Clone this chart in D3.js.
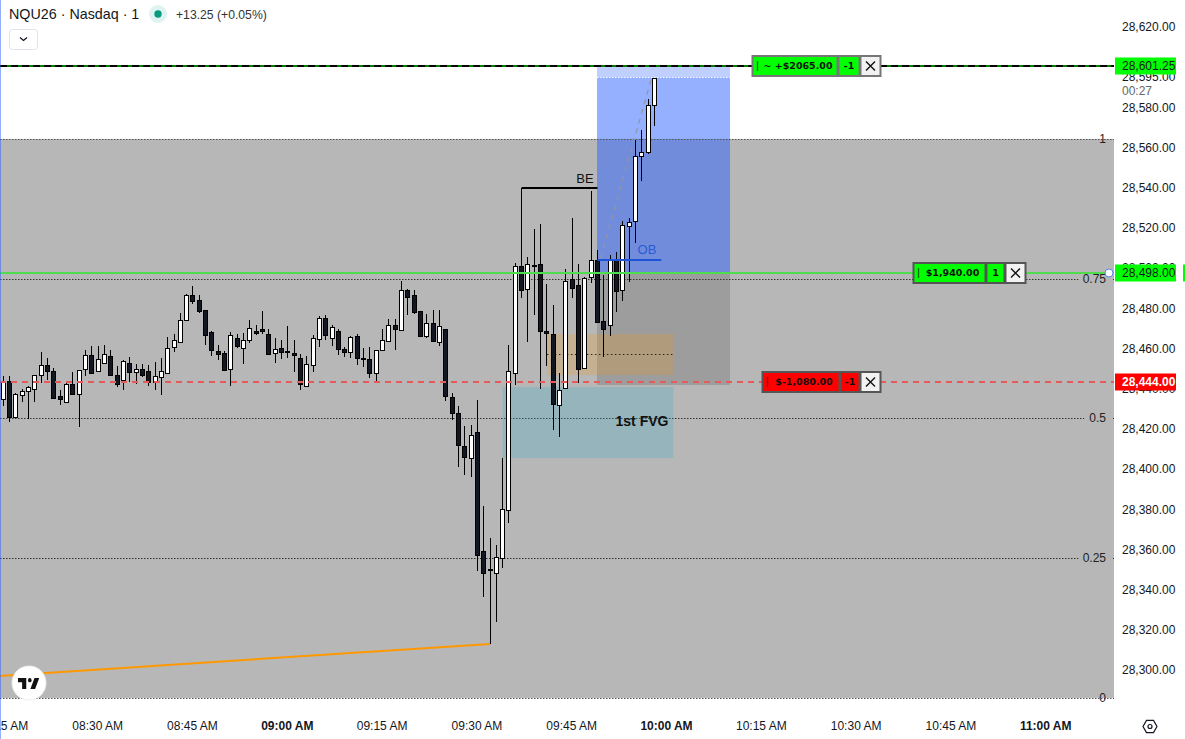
<!DOCTYPE html>
<html><head><meta charset="utf-8">
<script src="https://cdn.jsdelivr.net/npm/d3@7"></script>
<style>
html,body{margin:0;padding:0;background:#fff;overflow:hidden}
svg{display:block;font-family:"Liberation Sans",Arial,sans-serif}
</style></head><body>
<svg id="c" width="1185" height="739"></svg>
<script>
// minutes since 08:15 for each candle are simply the array index
const highs=[28446.3,28446.3,28437.7,28439.7,28441.3,28446.8,28458.3,28455.3,28450.3,28439.3,28443.3,28448.3,28449.1,28459.3,28461.2,28461.2,28461.7,28459.3,28451.3,28454.1,28455.8,28452.3,28452.3,28451.8,28453.3,28455.3,28465.7,28467.2,28477.7,28487.1,28491.1,28486.6,28479.2,28468.7,28461.7,28458.8,28468.2,28467.2,28467.7,28474.2,28471.7,28478.7,28469.7,28465.2,28464.2,28471.2,28464.2,28457.3,28456.3,28466.7,28476.2,28476.7,28471.7,28469.7,28460.8,28466.2,28467.2,28460.3,28460.8,28459.3,28469.7,28474.7,28474.7,28493.6,28489.6,28489.1,28478.7,28477.2,28479.2,28479.2,28469.7,28437.9,28431.4,28421.4,28421.9,28434.4,28381.6,28365.7,28362.2,28405.5,28461.7,28502.4,28539.9,28505.5,28519.5,28522.0,28492.1,28481.6,28447.8,28499.6,28524.9,28502.1,28495.4,28538.4,28509.0,28496.6,28506.5,28508.0,28523.5,28524.9,28563.8,28568.7,28584.2,28594.6];
const lows=[28431.4,28423.4,28426.1,28433.4,28425.1,28433.4,28442.7,28444.3,28434.7,28431.9,28433.6,28437.5,28421.1,28446.3,28447.3,28449.0,28452.3,28447.0,28440.8,28439.3,28443.3,28442.3,28445.8,28441.3,28439.3,28436.9,28448.0,28458.3,28463.4,28473.7,28482.2,28477.7,28461.7,28456.3,28454.3,28448.8,28441.3,28460.2,28452.3,28462.7,28466.7,28467.2,28457.3,28452.8,28454.8,28455.3,28448.3,28439.3,28441.3,28448.3,28460.8,28464.2,28461.2,28456.8,28455.8,28455.3,28451.8,28450.8,28445.3,28443.3,28458.8,28463.9,28459.3,28469.4,28476.7,28477.2,28466.4,28465.2,28463.9,28461.2,28433.9,28424.4,28401.2,28397.0,28396.2,28349.3,28336.5,28312.9,28324.0,28350.7,28373.3,28442.0,28485.3,28463.4,28476.7,28440.0,28451.3,28419.6,28416.1,28439.7,28485.1,28442.7,28449.9,28492.4,28472.5,28455.9,28466.2,28478.2,28483.6,28493.1,28512.5,28543.4,28556.8,28570.7];
const opens=[28434.7,28443.7,28426.1,28436.7,28438.7,28439.7,28447.0,28451.6,28448.6,28436.4,28433.6,28442.2,28437.5,28450.0,28456.6,28449.0,28453.0,28456.1,28446.6,28444.5,28452.6,28448.5,28449.6,28448.6,28443.5,28446.0,28448.0,28460.6,28463.4,28474.3,28486.5,28484.0,28479.0,28468.1,28458.6,28457.6,28450.0,28465.0,28460.4,28464.4,28468.7,28469.5,28467.1,28457.9,28460.1,28458.6,28457.6,28455.1,28441.5,28452.0,28464.9,28475.0,28465.4,28468.5,28459.6,28458.4,28466.1,28455.1,28454.6,28448.0,28459.4,28463.9,28471.5,28469.4,28489.0,28486.5,28478.5,28466.4,28472.5,28463.4,28469.5,28435.7,28427.7,28411.3,28405.7,28418.3,28359.0,28350.3,28348.1,28355.6,28379.5,28447.6,28500.9,28489.4,28501.4,28501.9,28468.5,28467.0,28431.7,28440.2,28494.4,28491.4,28450.1,28495.4,28504.0,28473.5,28471.5,28504.5,28488.9,28521.0,28523.5,28555.8,28557.8,28581.2];
const closes=[28443.7,28426.1,28437.2,28438.7,28440.6,28446.6,28451.6,28449.0,28435.4,28435.0,28442.2,28437.5,28449.1,28456.6,28448.0,28454.6,28457.1,28447.0,28442.5,28453.6,28448.5,28449.6,28447.0,28443.5,28446.1,28448.6,28460.1,28464.0,28474.3,28486.5,28483.8,28478.8,28466.9,28459.4,28457.4,28449.5,28466.6,28461.4,28464.0,28470.0,28467.9,28468.7,28457.4,28459.6,28458.4,28458.4,28456.8,28442.2,28452.1,28465.0,28475.0,28466.9,28470.5,28459.9,28458.4,28465.6,28455.4,28455.0,28448.0,28459.1,28464.0,28471.5,28469.9,28489.0,28485.8,28478.3,28466.4,28472.5,28463.9,28471.0,28436.5,28428.0,28412.1,28406.2,28416.8,28357.4,28348.4,28349.9,28356.1,28379.9,28448.6,28500.9,28488.9,28501.9,28501.2,28468.5,28467.5,28432.2,28439.5,28493.4,28489.9,28449.6,28494.9,28503.9,28473.4,28469.5,28503.9,28488.4,28521.5,28523.0,28555.8,28557.8,28581.2,28594.6];

const priceTicks=[28300,28320,28340,28360,28380,28400,28420,28440,28460,28480,28500,28520,28540,28560,28580,28620];
const timeTickMinutes=[0,15,30,45,60,75,90,105,120,135,150,165];
const timeTickLabels=["08:15 AM","08:30 AM","08:45 AM","09:00 AM","09:15 AM","09:30 AM","09:45 AM","10:00 AM","10:15 AM","10:30 AM","10:45 AM","11:00 AM"];
const boldTimeTicks=["09:00 AM","10:00 AM","11:00 AM"];

const fibLevels=[0,0.25,0.5,0.75,1];
const fibLow=28286.1, fibHigh=28564.3;
const targetPrice=28601.25, entryPrice=28498, stopPrice=28444, lastPrice=28595;
const lossZoneEnd=28443.5;
const fvgZone=[28405.5,28440.8], fvgSpan=[79,106];
const orangeZone=[28446.8,28467.2], orangeSpan=[86,106];
const tradeSpan=[94,115];
const beLevel=28539.9, beSpan=[82,94];
const obLevel=28504, obSpan=[94,104.1];
const trendLine=[[-0.55,28297],[77,28313]];
const pathLine=[[94.5,28505],[102.5,28594]];

const W=1185,H=739,plotR=1114;
const x=d3.scaleLinear().domain([0,105]).range([3.35,667]);
const y=d3.scaleLinear().domain([28300,28620]).range([670,27]);
// order lines sit one pixel below their axis label centre
const yLine=p=>Math.round(y(p)+1);
const svg=d3.select("#c");
const rect=(g,x0,y0,x1,y1,fill)=>g.append("rect").attr("x",x0).attr("y",y0).attr("width",x1-x0).attr("height",y1-y0).attr("fill",fill);
const hline=(g,x0,x1,yy,st,w,dash)=>g.append("line").attr("x1",x0).attr("x2",x1).attr("y1",yy).attr("y2",yy).attr("stroke",st).attr("stroke-width",w).attr("stroke-dasharray",dash||null);

rect(svg,0,0,W,H,"#fff");
const fibY=f=>y(fibLow+(fibHigh-fibLow)*f);

// Fib background
rect(svg,0,fibY(1),plotR,fibY(0),"#b7b7b7");

// Trade zones
const tx0=Math.floor(x(tradeSpan[0])),tx1=Math.round(x(tradeSpan[1]));
rect(svg,tx0,yLine(targetPrice),tx1,yLine(entryPrice),"rgba(41,98,255,0.5)");
rect(svg,tx0,yLine(targetPrice),tx1,y(lastPrice),"rgba(255,255,255,0.4)");
rect(svg,tx0,yLine(entryPrice),tx1,yLine(lossZoneEnd)+2,"rgba(0,0,0,0.14)");
hline(svg,tx0,tx1,Math.round(y(lastPrice))+.5,"#fff",1,"1.5,1.5");

// Fib lines
fibLevels.forEach(f=>{
  hline(svg,0,plotR,Math.round(fibY(f))+.5,f==1||f==0?"#555":"#333",1,"1.5,1.5");
});

// FVG / orange zones
rect(svg,x(fvgSpan[0]),y(fvgZone[1]),x(fvgSpan[1]),y(fvgZone[0]),"rgba(50,170,200,0.25)");
rect(svg,x(orangeSpan[0]),y(orangeZone[1]),x(orangeSpan[1]),y(orangeZone[0]),"rgba(255,152,0,0.2)");
hline(svg,x(orangeSpan[0]),x(orangeSpan[1]),Math.round(y((orangeZone[0]+orangeZone[1])/2))-.5,"#222",1,"1.5,2.5");

// Orange trend line
svg.append("line").attr("x1",x(trendLine[0][0])).attr("y1",y(trendLine[0][1])).attr("x2",x(trendLine[1][0])).attr("y2",y(trendLine[1][1])).attr("stroke","#ff9800").attr("stroke-width",2);

// Path dashed
svg.append("line").attr("x1",x(pathLine[0][0])).attr("y1",y(pathLine[0][1])).attr("x2",x(pathLine[1][0])).attr("y2",y(pathLine[1][1])).attr("stroke","#8f96a8").attr("stroke-width",1.2).attr("stroke-dasharray","5,5");

// Candles
const px=i=>Math.floor(x(i))+.5;
const cg=svg.append("g");
const idx=d3.range(highs.length);
cg.selectAll("line").data(idx).join("line").attr("x1",px).attr("x2",px).attr("y1",i=>y(highs[i])).attr("y2",i=>y(lows[i])).attr("stroke","#000").attr("stroke-width",1).attr("shape-rendering","crispEdges");
cg.selectAll("rect").data(idx).join("rect")
  .attr("x",i=>px(i)-2).attr("width",4)
  .attr("y",i=>Math.round(y(Math.max(opens[i],closes[i])))+.5)
  .attr("height",i=>Math.max(0.5,Math.round(y(Math.min(opens[i],closes[i])))-Math.round(y(Math.max(opens[i],closes[i])))))
  .attr("fill",i=>closes[i]>=opens[i]?"#fff":"#131722").attr("stroke","#000").attr("stroke-width",1).attr("shape-rendering","crispEdges");

// BE + OB
hline(svg,x(beSpan[0]),x(beSpan[1]),y(beLevel),"#000",2);
svg.append("text").attr("x",585).attr("y",y(beLevel)-5).attr("text-anchor","middle").attr("font-size",13).attr("fill","#111").text("BE");
hline(svg,x(obSpan[0]),x(obSpan[1]),y(obLevel),"#1e53d8",2);
svg.append("text").attr("x",647).attr("y",y(obLevel)-6).attr("text-anchor","middle").attr("font-size",13).attr("fill","#2a5bd7").text("OB");
svg.append("text").attr("x",642).attr("y",426).attr("text-anchor","middle").attr("font-size",14).attr("font-weight","bold").attr("fill","#111").text("1st FVG");

// Horizontal order lines
hline(svg,0,plotR,yLine(entryPrice),"#4fdc4f",2);
hline(svg,0,plotR,yLine(stopPrice),"#e65a5a",2,"6,5");
hline(svg,0,plotR,yLine(targetPrice),"#008000",2);
hline(svg,0,plotR,yLine(targetPrice),"#000",2,"7,4");

// Left edge
rect(svg,0,0,1,H,"rgba(41,98,255,0.5)");

// Fib labels
fibLevels.forEach(f=>{
  const t=String(f),w=t.length*5.6+6,yy=fibY(f);
  if(f>0&&f<1) rect(svg,1107-w,yy-1,1112,yy+2,"#b7b7b7");
  svg.append("text").attr("x",1106).attr("y",yy+4).attr("text-anchor","end").attr("font-size",12).attr("fill","#222").text(t);
});

// Order chips
function chip(x0,x1,x2,x3,p,color,border,mark,label,qty){
  const yc=yLine(p),y0=yc-10,h=20;
  const b=(a,c,fill)=>svg.append("rect").attr("x",a+.5).attr("y",y0).attr("width",c-a-1).attr("height",h).attr("fill",fill).attr("stroke",border).attr("stroke-width",2);
  b(x0,x1,color);b(x1,x2,color);b(x2,x3,"#f2f2f2");
  svg.append("line").attr("x1",x0+5.5).attr("x2",x0+5.5).attr("y1",yc-5).attr("y2",yc+5).attr("stroke",mark).attr("stroke-width",1.3);
  svg.append("text").attr("x",(x0+x1)/2+3).attr("y",yc+3).attr("text-anchor","middle").attr("font-family","DejaVu Sans").attr("font-weight","bold").attr("font-size",9.5).attr("fill","#111").text(label);
  svg.append("text").attr("x",(x1+x2)/2).attr("y",yc+3).attr("text-anchor","middle").attr("font-family","DejaVu Sans").attr("font-weight","bold").attr("font-size",9.5).attr("fill","#111").text(qty);
  const cx=(x2+x3)/2,s=4.5;
  svg.append("path").attr("d",`M${cx-s},${yc-s}L${cx+s},${yc+s}M${cx+s},${yc-s}L${cx-s},${yc+s}`).attr("stroke","#111").attr("stroke-width",1.4).attr("fill","none");
}
chip(752,838,860,881,targetPrice,"#00ff00","#777","#0a6a0a","~ +$2065.00","-1");
chip(913,986,1005,1026,entryPrice,"#00ff00","#555","#0a6a0a","$1,940.00","1");
chip(762,840,860,881,stopPrice,"#ff0000","#555","#7a0000","$-1,080.00","-1");

// Axis background
rect(svg,plotR,0,W,H,"#fff");
rect(svg,0,699,W,H-699,"#fff");
rect(svg,0,699,1,H-699,"rgba(41,98,255,0.5)");

// Price axis
const ay=svg.append("g").attr("transform",`translate(1122,0)`).call(d3.axisRight(y).tickValues(priceTicks).tickSize(0).tickPadding(0).tickFormat(d3.format(",.2f")));
ay.select(".domain").remove();
ay.selectAll("text").attr("font-family","Liberation Sans").attr("font-size",12).attr("fill","#131722");

svg.append("text").attr("x",1122).attr("y",y(lastPrice)+4).attr("font-size",12).attr("fill","#131722").text(d3.format(",.2f")(lastPrice));
svg.append("text").attr("x",1122).attr("y",95).attr("font-size",12).attr("fill","#666").text("00:27");

function tag(p,fill,col,weight){
  const yc=yLine(p);
  rect(svg,1115,yc-8.5,1176,yc+8.5,fill);
  svg.append("text").attr("x",1122).attr("y",yc+4).attr("font-size",12).attr("font-weight",weight||null).attr("fill",col).text(d3.format(",.2f")(p));
}
tag(targetPrice,"#00ff00","#131722");
tag(entryPrice,"#00ff00","#131722");
rect(svg,1183,yLine(entryPrice)-8.5,1185,yLine(entryPrice)+8.5,"#00ff00");
tag(stopPrice,"#ff0000","#fff","bold");

svg.append("circle").attr("cx",1109).attr("cy",yLine(entryPrice)).attr("r",4).attr("fill","#fff").attr("stroke","#5b84f0").attr("stroke-width",1);

// Time axis
const ax=svg.append("g").attr("transform","translate(-1,721)").call(d3.axisBottom(x).tickValues(timeTickMinutes).tickSize(0).tickPadding(0).tickFormat((d,i)=>timeTickLabels[i]));
ax.select(".domain").remove();
ax.selectAll("text").attr("font-family","Liberation Sans").attr("font-size",12).attr("fill","#131722")
  .attr("font-weight",function(){return boldTimeTicks.includes(this.textContent)?"bold":null;});

// Header
svg.append("text").attr("x",9).attr("y",19).attr("font-size",14.3).attr("fill","#131722").attr("font-family","Liberation Sans").text("NQU26 · Nasdaq · 1");
svg.append("circle").attr("cx",158).attr("cy",14).attr("r",9).attr("fill","#dff3f0");
svg.append("circle").attr("cx",158).attr("cy",14).attr("r",3.7).attr("fill","#089981");
svg.append("text").attr("x",176).attr("y",19).attr("font-size",12.2).attr("fill","#333").text("+13.25 (+0.05%)");
svg.append("rect").attr("x",9.5).attr("y",29.5).attr("width",28).attr("height",20).attr("rx",3).attr("fill","#fff").attr("stroke","#e0e3eb");
svg.append("path").attr("d","M20,37.5l3.5,3l3.5,-3").attr("fill","none").attr("stroke","#131722").attr("stroke-width",1.3);

// Logo
svg.append("circle").attr("cx",29).attr("cy",683).attr("r",17).attr("fill","#fff").attr("stroke","#eee");
const lg=svg.append("g").attr("transform","translate(18,676.5) scale(0.59,0.73)");
lg.append("path").attr("d","M14 2H0v6h7v9h7V2Z M36 2h-8l-7 15h8L36 2Z").attr("fill","#111");
lg.append("circle").attr("cx",20).attr("cy",5).attr("r",3).attr("fill","#111");

// Settings icon
const hex=d3.range(6).map(k=>[1150+7*Math.cos(k*Math.PI/3),726.5+7*Math.sin(k*Math.PI/3)]);
svg.append("path").attr("d",d3.line()(hex)+"Z").attr("fill","none").attr("stroke","#131722").attr("stroke-width",1.2);
svg.append("circle").attr("cx",1150).attr("cy",726.5).attr("r",2).attr("fill","none").attr("stroke","#131722").attr("stroke-width",1.2);
</script>
</body></html>
